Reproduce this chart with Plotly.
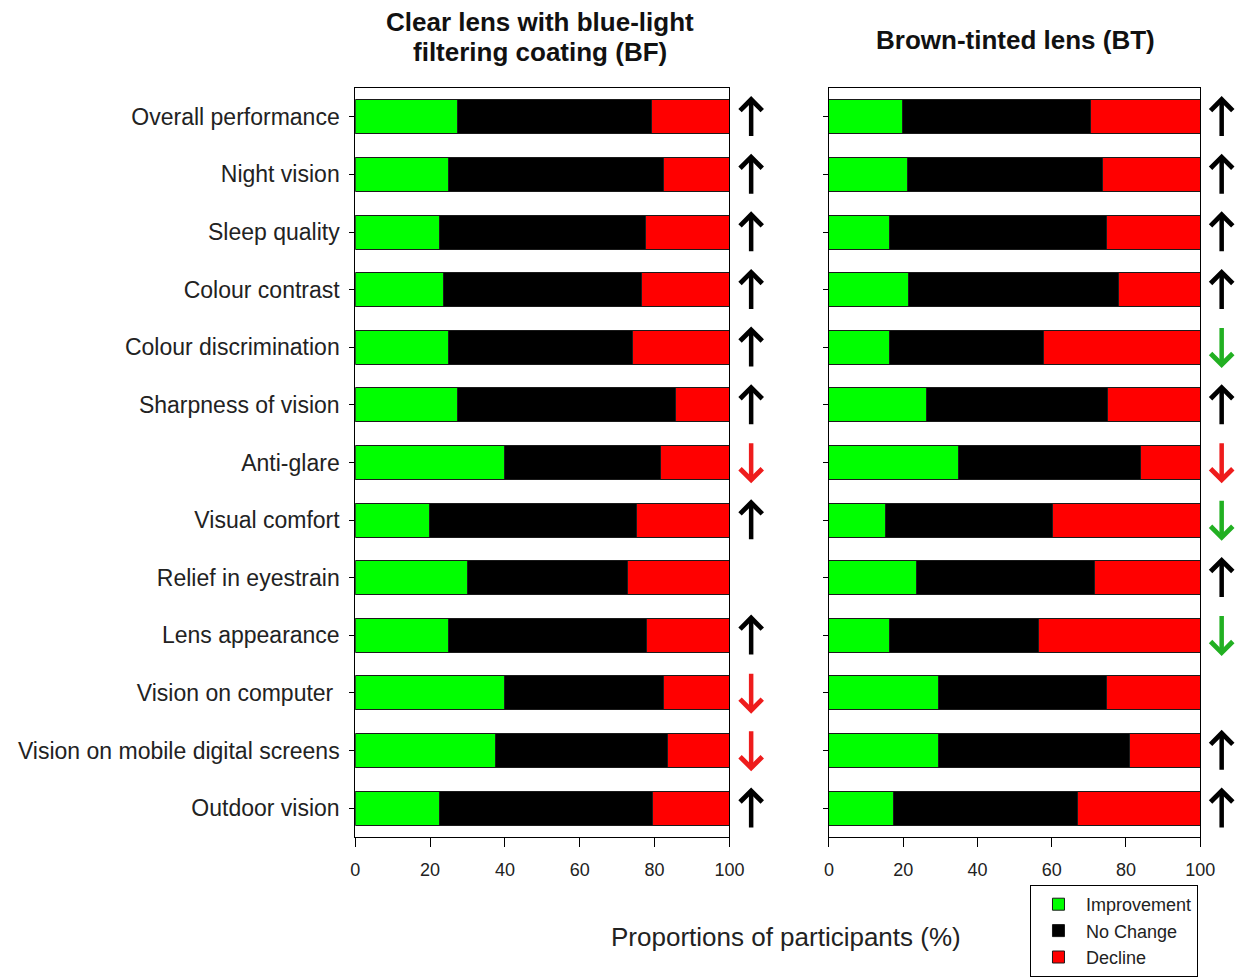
import plotly.graph_objects as go

categories = ["Overall performance", "Night vision", "Sleep quality", "Colour contrast",
              "Colour discrimination", "Sharpness of vision", "Anti-glare", "Visual comfort",
              "Relief in eyestrain", "Lens appearance", "Vision on computer ",
              "Vision on mobile digital screens", "Outdoor vision"]

# Clear lens with blue-light filtering coating (BF)
bf_improvement = [27.3, 24.9, 22.5, 23.7, 24.9, 27.3, 40.0, 19.8, 30.0, 24.9, 40.0, 37.6, 22.5]
bf_no_change   = [51.8, 57.5, 55.1, 52.9, 49.3, 58.2, 41.5, 55.4, 42.8, 52.9, 42.4, 45.9, 57.0]
bf_decline     = [20.9, 17.6, 22.4, 23.4, 25.8, 14.5, 18.5, 24.8, 27.2, 22.2, 17.6, 16.5, 20.5]
bf_arrows      = ["up", "up", "up", "up", "up", "up", "down_red", "up", "", "up",
                  "down_red", "down_red", "up"]

# Brown-tinted lens (BT)
bt_improvement = [19.7, 21.1, 16.4, 21.3, 16.4, 26.2, 34.9, 15.1, 23.7, 16.3, 29.4, 29.4, 17.3]
bt_no_change   = [50.7, 52.7, 58.5, 56.7, 41.3, 48.9, 49.1, 45.2, 47.8, 40.1, 45.3, 51.7, 49.6]
bt_decline     = [29.6, 26.2, 25.1, 22.0, 42.3, 24.9, 16.0, 39.7, 28.5, 43.6, 25.3, 18.9, 33.1]
bt_arrows      = ["up", "up", "up", "up", "down_green", "up", "down_red", "down_green", "up",
                  "down_green", "", "up", "up"]

series_names = ["Improvement", "No Change", "Decline"]
series_colors = ["#00ff00", "#000000", "#ff0000"]
arrow_colors = {"up": "#000000", "down_red": "#ee1c1c", "down_green": "#22b022"}

FONT = "Liberation Sans, Arial, sans-serif"
W, H = 1244, 977
WX = 1230  # effective horizontal extent used for paper fractions

x1_dom = [352 / WX, 728 / WX]
x2_dom = [828 / WX, 1201 / WX]
y_dom = [1 - 837 / H, 1 - 88 / H]

fig = go.Figure()

panels = [
    ("x", "y", [bf_improvement, bf_no_change, bf_decline], True),
    ("x2", "y2", [bt_improvement, bt_no_change, bt_decline], False),
]
for xa, ya, vals, show in panels:
    for name, color, v in zip(series_names, series_colors, vals):
        fig.add_trace(go.Bar(
            x=v, y=categories, orientation="h", name=name,
            marker=dict(color=color, line=dict(color="#1a1a1a", width=1)),
            xaxis=xa, yaxis=ya, showlegend=show, legendgroup=name,
            hovertemplate="%{y}: %{x}%<extra>" + name + "</extra>",
        ))

n = len(categories)
common_x = dict(range=[0, 100], tickvals=[0, 20, 40, 60, 80, 100], ticks="outside",
                ticklen=9, tickwidth=1, tickcolor="black", showline=True, linecolor="black",
                linewidth=1, mirror=True, showgrid=False, zeroline=False,
                ticklabelstandoff=7,
                tickfont=dict(family=FONT, size=18, color="#222"), fixedrange=True)
common_y = dict(type="category", categoryarray=categories, range=[n - 0.5, -0.5],
                ticks="outside", ticklen=5, tickwidth=1, tickcolor="black", showline=True,
                linecolor="black", linewidth=1, mirror=True, showgrid=False,
                fixedrange=True)

fig.update_layout(
    width=W, height=H,
    margin=dict(l=0, r=0, t=0, b=0),
    paper_bgcolor="white", plot_bgcolor="white",
    barmode="stack", bargap=0.41,
    font=dict(family=FONT, color="#222"),
    xaxis=dict(domain=x1_dom, anchor="y", **common_x),
    xaxis2=dict(domain=x2_dom, anchor="y2", **common_x),
    yaxis=dict(domain=y_dom, anchor="x",
               tickfont=dict(family=FONT, size=23, color="#222"),
               ticklabelstandoff=5, **common_y),
    yaxis2=dict(domain=y_dom, anchor="x2", showticklabels=False, **common_y),
    legend=dict(x=1030 / WX, y=0, xanchor="left", yanchor="bottom",
                bordercolor="black", borderwidth=1, bgcolor="white",
                font=dict(family=FONT, size=18, color="#222"), tracegroupgap=0,
                itemwidth=45, itemclick=False, itemdoubleclick=False),
)

annotations = []
# Panel titles (one annotation per line for exact line placement)
title_font = dict(family=FONT, size=26, color="#111")
for text, xpx, ypx in [("<b>Clear lens with blue-light</b>", 538, 22),
                       ("<b>filtering coating (BF)</b>", 538, 52),
                       ("<b>Brown-tinted lens (BT)</b>", 1015, 40)]:
    annotations.append(dict(text=text, xref="paper", yref="paper", x=xpx / WX, y=1 - ypx / H,
                            xanchor="center", yanchor="middle", showarrow=False,
                            font=title_font))
# Shared x-axis title
annotations.append(dict(text="Proportions of participants (%)",
                        xref="paper", yref="paper", x=785 / WX, y=1 - 937 / H,
                        xanchor="center", yanchor="middle", showarrow=False,
                        font=dict(family=FONT, size=26, color="#222")))

# Significance arrows, placed just right of each panel (x in % units of the panel axis)
arrow_x = 105.8
half = 0.36
for dom, ya, arrows in [(x1_dom, "y", bf_arrows), (x2_dom, "y2", bt_arrows)]:
    xp = dom[0] + (dom[1] - dom[0]) * arrow_x / 100
    for i, a in enumerate(arrows):
        if not a:
            continue
        if a == "up":
            head, tail = i - half, i + half
        else:
            head, tail = i + half, i - half
        annotations.append(dict(
            x=xp, y=head, ax=0, ay=tail, xref="paper", yref=ya, axref="pixel", ayref=ya,
            text="", showarrow=True, arrowhead=4, arrowsize=0.95, arrowwidth=4.5,
            arrowcolor=arrow_colors[a], standoff=0, startstandoff=0,
        ))

fig.update_layout(annotations=annotations)

fig.write_html("out.html")
